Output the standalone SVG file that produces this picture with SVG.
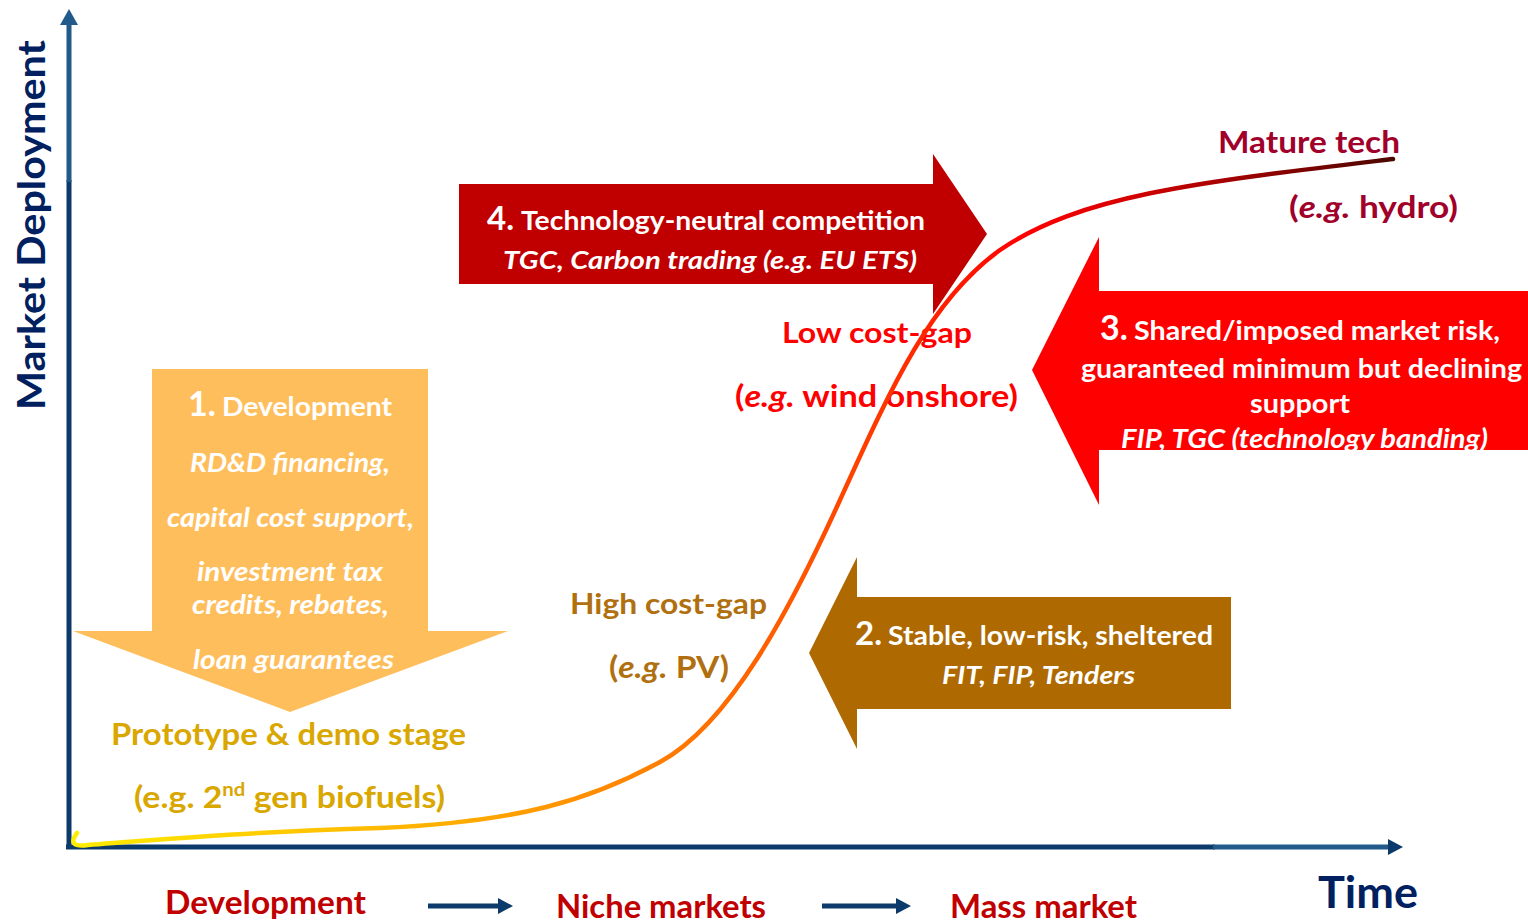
<svg xmlns="http://www.w3.org/2000/svg" width="1528" height="922" viewBox="0 0 1528 922">
<style>
.t{font-family:Lato,"Liberation Sans",sans-serif;font-weight:bold}
.i{font-style:italic}
.w{fill:#fff}
.nav{fill:#002060}
.axis{stroke:#0B3A6B;stroke-width:5;fill:none}
.axl{stroke:#235A8C;stroke-width:5;fill:none}
.lbl{fill:#C00000}
</style>
<defs>
<linearGradient id="curveGrad" gradientUnits="userSpaceOnUse" x1="70" y1="0" x2="1395" y2="0">
<stop offset="0" stop-color="#FFEE00"/>
<stop offset="0.12" stop-color="#FFD200"/>
<stop offset="0.3" stop-color="#FFAA00"/>
<stop offset="0.45" stop-color="#FF7C00"/>
<stop offset="0.56" stop-color="#FF5200"/>
<stop offset="0.66" stop-color="#FF1E00"/>
<stop offset="0.72" stop-color="#FF0000"/>
<stop offset="0.8" stop-color="#D40000"/>
<stop offset="0.9" stop-color="#920000"/>
<stop offset="1" stop-color="#4A0800"/>
</linearGradient>
<clipPath id="clip3"><rect x="1000" y="200" width="528" height="250"/></clipPath>
</defs>

<g id="axes">
<line class="axis" x1="69" y1="849" x2="69" y2="180"/>
<line class="axl" x1="69" y1="182" x2="69" y2="22"/>
<polygon points="60,25 78,25 69,9" fill="#235A8C"/>
<line class="axis" x1="66" y1="847" x2="1215" y2="847"/>
<line class="axl" x1="1213" y1="847" x2="1390" y2="847"/>
<polygon points="1388,839 1388,855 1403,847" fill="#0B3A6B"/>
<text class="t nav" transform="translate(45,225) rotate(-90)" text-anchor="middle" font-size="38" textLength="370" lengthAdjust="spacingAndGlyphs">Market Deployment</text>
<text class="t nav" x="1318" y="908" font-size="43" textLength="100" lengthAdjust="spacingAndGlyphs">Time</text>
</g>

<g id="stage-labels">
<text class="t lbl" x="165" y="914" font-size="33" textLength="201" lengthAdjust="spacingAndGlyphs">Development</text>
<text class="t lbl" x="556" y="918" font-size="33" textLength="210" lengthAdjust="spacingAndGlyphs">Niche markets</text>
<text class="t lbl" x="950" y="918" font-size="33" textLength="187" lengthAdjust="spacingAndGlyphs">Mass market</text>
</g>

<g id="connectors">
<line x1="428" y1="906" x2="500" y2="906" stroke="#0B3A6B" stroke-width="5"/>
<polygon points="498,898 498,914 513,906" fill="#0B3A6B"/>
<line x1="822" y1="906" x2="898" y2="906" stroke="#0B3A6B" stroke-width="5"/>
<polygon points="896,898 896,914 911,906" fill="#0B3A6B"/>
</g>

<g id="label-low">
<text class="t" fill="#FF0000" x="782" y="343" font-size="29" textLength="190" lengthAdjust="spacingAndGlyphs">Low cost-gap</text>
<text class="t" fill="#FF0000" x="735" y="407" font-size="30" textLength="283" lengthAdjust="spacingAndGlyphs">(<tspan class="i">e.g.</tspan> wind onshore)</text>
</g>

<g id="curve">
<path d="M 77 833 Q 66 848 88 845 C 180 838 250 832 380 828 C 520 822 590 800 660 762 C 730 724 790 610 840 500 C 890 390 930 300 1000 250 C 1080 195 1200 182 1393 159" fill="none" stroke="url(#curveGrad)" stroke-width="4.5" stroke-linecap="round"/>
</g>

<g id="arrow1">
<polygon points="152,369 428,369 428,631 508,631 290,712 73,631 152,631" fill="#FFBE5C"/>
<text class="t w" x="188" y="416" font-size="34">1.</text>
<text class="t w" x="222" y="416" font-size="27" textLength="170" lengthAdjust="spacingAndGlyphs">Development</text>
<text class="t w i" x="190" y="472" font-size="26" textLength="200" lengthAdjust="spacingAndGlyphs">RD&amp;D financing,</text>
<text class="t w i" x="167" y="527" font-size="26" textLength="247" lengthAdjust="spacingAndGlyphs">capital cost support,</text>
<text class="t w i" x="197" y="581" font-size="26" textLength="186" lengthAdjust="spacingAndGlyphs">investment tax</text>
<text class="t w i" x="192" y="614" font-size="26" textLength="197" lengthAdjust="spacingAndGlyphs">credits, rebates,</text>
<text class="t w i" x="193" y="669" font-size="26" textLength="201" lengthAdjust="spacingAndGlyphs">loan guarantees</text>
</g>

<g id="label-prototype">
<text class="t" fill="#D9A700" x="111" y="745" font-size="30" textLength="355" lengthAdjust="spacingAndGlyphs">Prototype &amp; demo stage</text>
<text class="t" fill="#D9A700" x="134" y="808" font-size="30" textLength="311" lengthAdjust="spacingAndGlyphs">(e.g. 2<tspan font-size="18" dy="-12">nd</tspan><tspan dy="12"> gen biofuels)</tspan></text>
</g>

<g id="arrow4">
<polygon points="459,184 933,184 933,154 987,234 933,314 933,284 459,284" fill="#C00000"/>
<text class="t w" x="487" y="230" font-size="33">4.</text>
<text class="t w" x="521" y="230" font-size="26" textLength="404" lengthAdjust="spacingAndGlyphs">Technology-neutral competition</text>
<text class="t w i" x="503" y="269" font-size="25" textLength="414" lengthAdjust="spacingAndGlyphs">TGC, Carbon trading (e.g. EU ETS)</text>
</g>

<g id="arrow3">
<polygon points="1528,291 1099,291 1099,237 1032,370 1099,505 1099,450 1528,450" fill="#FF0000"/>
<text class="t w" x="1100" y="340" font-size="34">3.</text>
<text class="t w" x="1134" y="340" font-size="26" textLength="366" lengthAdjust="spacingAndGlyphs">Shared/imposed market risk,</text>
<text class="t w" x="1081" y="378" font-size="26" textLength="441" lengthAdjust="spacingAndGlyphs">guaranteed minimum but declining</text>
<text class="t w" x="1250" y="413" font-size="26" textLength="100" lengthAdjust="spacingAndGlyphs">support</text>
<text class="t w i" x="1121" y="448" font-size="26" textLength="367" lengthAdjust="spacingAndGlyphs" clip-path="url(#clip3)">FIP, TGC (technology  banding)</text>
</g>

<g id="arrow2">
<polygon points="1231,597 857,597 857,557 809,653 857,749 857,709 1231,709" fill="#AE6A00"/>
<text class="t w" x="855" y="645" font-size="33">2.</text>
<text class="t w" x="888" y="645" font-size="26" textLength="325" lengthAdjust="spacingAndGlyphs">Stable, low-risk, sheltered</text>
<text class="t w i" x="942" y="684" font-size="25" textLength="193" lengthAdjust="spacingAndGlyphs">FIT, FIP, Tenders</text>
</g>

<g id="label-high">
<text class="t" fill="#B07010" x="570" y="614" font-size="29" textLength="197" lengthAdjust="spacingAndGlyphs">High cost-gap</text>
<text class="t" fill="#B07010" x="609" y="678" font-size="30" textLength="120" lengthAdjust="spacingAndGlyphs">(<tspan class="i">e.g.</tspan> PV)</text>
</g>

<g id="label-mature">
<text class="t" fill="#A0002A" x="1218" y="153" font-size="30" textLength="182" lengthAdjust="spacingAndGlyphs">Mature tech</text>
<text class="t" fill="#A0002A" x="1289" y="218" font-size="30" textLength="169" lengthAdjust="spacingAndGlyphs">(<tspan class="i">e.g.</tspan> hydro)</text>
</g>
</svg>
